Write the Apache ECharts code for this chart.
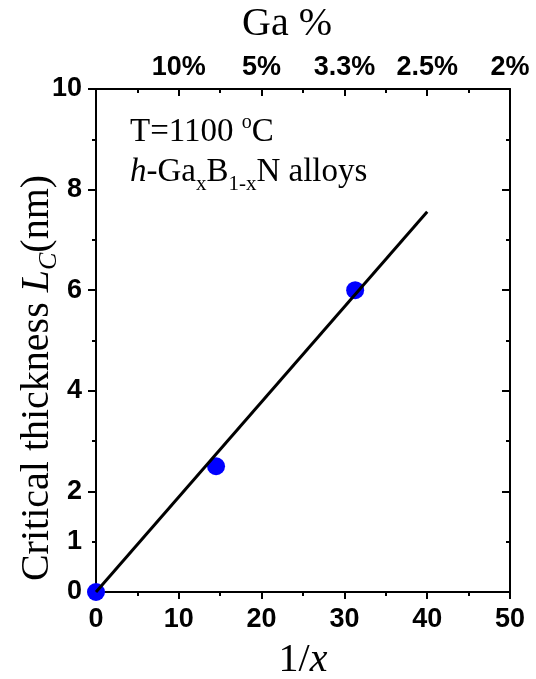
<!DOCTYPE html>
<html>
<head>
<meta charset="utf-8">
<script src="https://cdn.jsdelivr.net/npm/echarts@6/dist/echarts.min.js"></script>
<style>
  html, body { margin: 0; padding: 0; background: #fff; }
  #chart { width: 536px; height: 679px; }
</style>
</head>
<body>
<div id="chart"></div>
<script>
// measured points (1/x vs critical thickness)
const invX = [0, 14.5, 31.3]
const thickness = [0, 2.5, 6]
// linear fit end points
const fitX = [0, 40]
const fitY = [0, 7.56]
// top axis: Ga fraction at 1/x = 10..50
const topTickValues = [10, 20, 30, 40, 50]
const topTickLabels = ['10%', '5%', '3.3%', '2.5%', '2%']
// left axis labels that are shown
const leftLabels = [0, 2, 4, 6, 8, 10]
const extraLeftLabels = [1]

const serif = '"Liberation Serif", "Times New Roman", serif'
const sans = '"Liberation Sans", Arial, sans-serif'

const chart = echarts.init(document.getElementById('chart'))

const tickLabel = { fontFamily: sans, fontWeight: 'bold', fontSize: 27, color: '#000' }
const axisLine = { show: true, onZero: false, lineStyle: { color: '#000', width: 2 } }
const tickStyle = { color: '#000', width: 2 }

chart.setOption({
  animation: false,
  backgroundColor: '#fff',
  grid: { left: 96, top: 89, right: 26, bottom: 87 },
  xAxis: [
    {
      type: 'value', position: 'bottom', min: 0, max: 50, interval: 10,
      axisLine,
      axisTick: { length: 7, lineStyle: tickStyle },
      minorTick: { show: true, splitNumber: 2, length: 4, lineStyle: tickStyle },
      splitLine: { show: false },
      axisLabel: { ...tickLabel, margin: 14 },
    },
    {
      type: 'value', position: 'top', min: 0, max: 50, interval: 10,
      axisLine,
      axisTick: { inside: true, length: 7, lineStyle: tickStyle },
      minorTick: { show: true, splitNumber: 2, length: 4, lineStyle: tickStyle },
      splitLine: { show: false },
      axisLabel: {
        ...tickLabel, margin: 8,
        formatter: v => {
          const i = topTickValues.indexOf(v)
          return i >= 0 ? topTickLabels[i] : ''
        },
      },
    },
  ],
  yAxis: [
    {
      type: 'value', position: 'left', min: 0, max: 10, interval: 2,
      axisLine,
      axisTick: { length: 8, lineStyle: tickStyle },
      minorTick: { show: true, splitNumber: 2, length: 4, lineStyle: tickStyle },
      splitLine: { show: false },
      axisLabel: { ...tickLabel, margin: 14, formatter: v => (leftLabels.includes(v) ? String(v) : '') },
    },
    {
      type: 'value', position: 'right', min: 0, max: 10, interval: 2,
      axisLine,
      axisTick: { inside: true, length: 8, lineStyle: tickStyle },
      minorTick: { show: true, splitNumber: 2, length: 4, lineStyle: tickStyle },
      splitLine: { show: false },
      axisLabel: { show: false },
    },
    {
      // only carries the odd "1" label on the left
      type: 'value', position: 'left', min: 0, max: 10, interval: 1,
      axisLine: { show: false, onZero: false },
      axisTick: { show: false },
      splitLine: { show: false },
      axisLabel: { ...tickLabel, margin: 14, formatter: v => (extraLeftLabels.includes(v) ? String(v) : '') },
    },
  ],
  graphic: [
    {
      type: 'text', x: 287, y: 24,
      style: { text: 'Ga %', font: '40px ' + serif, fill: '#000', textAlign: 'center', textVerticalAlign: 'middle' },
    },
    {
      type: 'text', x: 303, y: 660,
      style: {
        text: '{n|1/}{i|x}', textAlign: 'center', textVerticalAlign: 'middle',
        rich: {
          n: { fontFamily: serif, fontSize: 40, fill: '#000' },
          i: { fontFamily: serif, fontSize: 40, fontStyle: 'italic', fill: '#000' },
        },
      },
    },
    {
      type: 'text', x: 33, y: 378, rotation: Math.PI / 2,
      style: {
        text: '{n|Critical thickness }{i|L}{s|C}{n|(nm)}', textAlign: 'center', textVerticalAlign: 'middle',
        rich: {
          n: { fontFamily: serif, fontSize: 40, fill: '#000', lineHeight: 48, verticalAlign: 'bottom' },
          i: { fontFamily: serif, fontSize: 40, fontStyle: 'italic', fill: '#000', lineHeight: 48, verticalAlign: 'bottom' },
          s: { fontFamily: serif, fontSize: 26, fontStyle: 'italic', fill: '#000', lineHeight: 48, verticalAlign: 'bottom', padding: [0, 0, -5, 0] },
        },
      },
    },
    {
      type: 'text', x: 130, y: 130,
      style: {
        text: '{n|T=1100 }{u|o}{n|C}', textVerticalAlign: 'middle',
        rich: {
          n: { fontFamily: serif, fontSize: 33, fill: '#000', lineHeight: 38, verticalAlign: 'bottom' },
          u: { fontFamily: serif, fontSize: 20, fill: '#000', lineHeight: 38, verticalAlign: 'top', padding: [2, 0, 0, 0] },
        },
      },
    },
    {
      type: 'text', x: 130, y: 170,
      style: {
        text: '{i|h}{n|-Ga}{s|x}{n|B}{s|1-x}{n|N alloys}', textVerticalAlign: 'middle',
        rich: {
          n: { fontFamily: serif, fontSize: 33, fill: '#000', lineHeight: 38, verticalAlign: 'bottom' },
          i: { fontFamily: serif, fontSize: 33, fontStyle: 'italic', fill: '#000', lineHeight: 38, verticalAlign: 'bottom' },
          s: { fontFamily: serif, fontSize: 21, fill: '#000', lineHeight: 38, verticalAlign: 'bottom', padding: [0, 0, -6, 0] },
        },
      },
    },
  ],
  series: [
    {
      type: 'scatter', xAxisIndex: 0, yAxisIndex: 0,
      data: invX.map((x, i) => [x, thickness[i]]),
      symbolSize: 18,
      itemStyle: { color: '#0000ff', opacity: 1 },
      clip: true, z: 2,
    },
    {
      type: 'line', xAxisIndex: 0, yAxisIndex: 0,
      data: fitX.map((x, i) => [x, fitY[i]]),
      showSymbol: false, symbol: 'none',
      lineStyle: { color: '#000', width: 3 },
      z: 3,
    },
  ],
})
</script>
</body>
</html>
